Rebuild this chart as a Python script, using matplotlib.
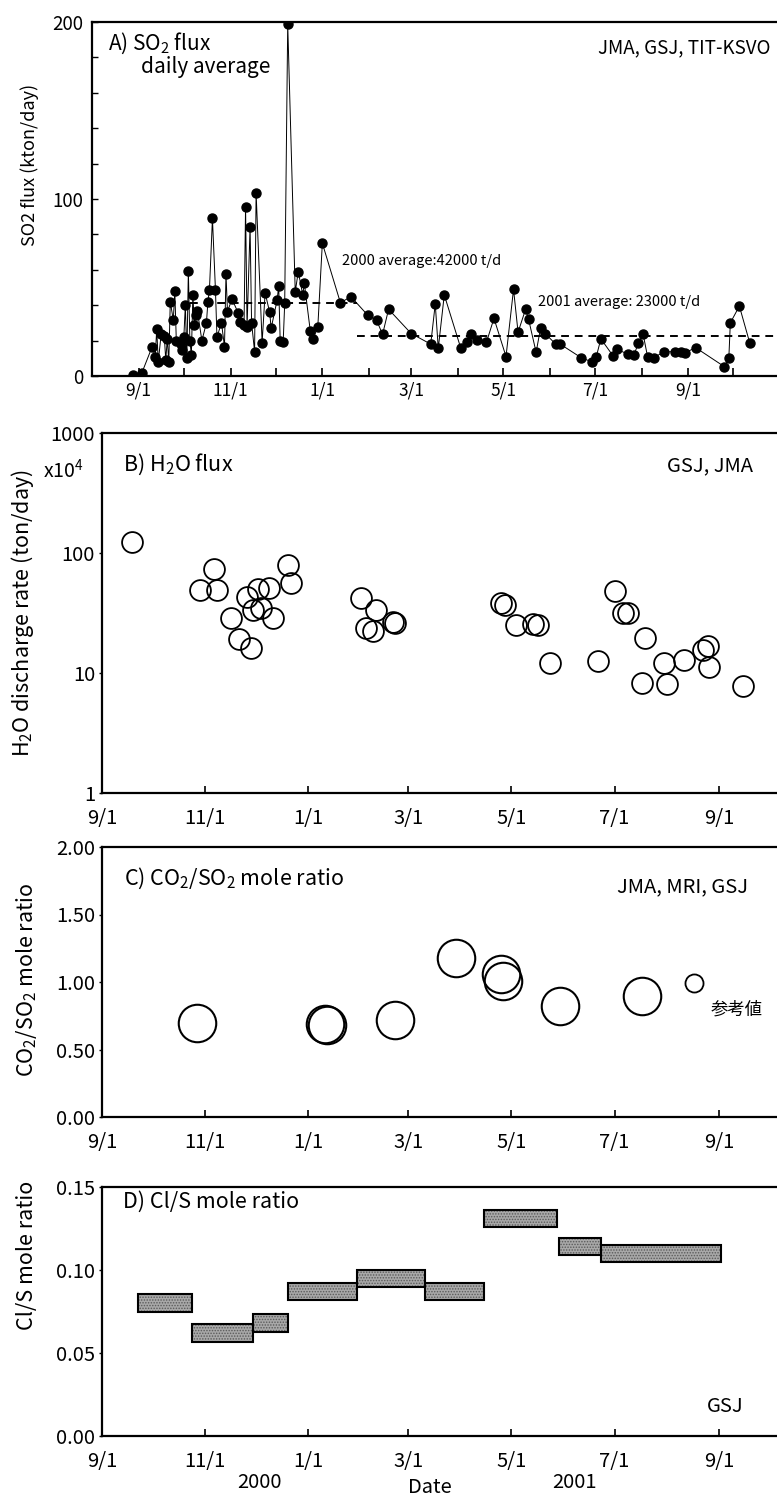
import numpy as np
import pandas as pd
import matplotlib
matplotlib.use('Agg')
import matplotlib.pyplot as plt
import matplotlib.dates as mdates

plt.rcParams['font.family'] = ['Noto Sans CJK JP', 'DejaVu Sans']
plt.rcParams['mathtext.fontset'] = 'custom'
plt.rcParams['mathtext.rm'] = 'Noto Sans CJK JP'
plt.rcParams['mathtext.it'] = 'Noto Sans CJK JP'
plt.rcParams['hatch.linewidth'] = 0.7

# ---- A) SO2 flux, daily average (kton/day)
so2_dates = [
    '2000-08-28', '2000-09-03', '2000-09-10', '2000-09-12', '2000-09-13', '2000-09-14',
    '2000-09-16', '2000-09-18', '2000-09-19', '2000-09-20', '2000-09-21', '2000-09-22',
    '2000-09-24', '2000-09-25', '2000-09-26', '2000-09-29', '2000-09-30', '2000-10-01',
    '2000-10-02', '2000-10-03', '2000-10-04', '2000-10-05', '2000-10-06', '2000-10-07',
    '2000-10-08', '2000-10-09', '2000-10-10', '2000-10-13', '2000-10-16', '2000-10-17',
    '2000-10-18', '2000-10-20', '2000-10-22', '2000-10-23', '2000-10-26', '2000-10-28',
    '2000-10-29', '2000-10-30', '2000-11-02', '2000-11-06', '2000-11-07', '2000-11-10',
    '2000-11-11', '2000-11-12', '2000-11-14', '2000-11-15', '2000-11-17', '2000-11-18',
    '2000-11-22', '2000-11-24', '2000-11-27', '2000-11-28', '2000-12-02', '2000-12-03',
    '2000-12-04', '2000-12-06', '2000-12-07', '2000-12-09', '2000-12-14', '2000-12-16',
    '2000-12-19', '2000-12-20', '2000-12-24', '2000-12-26', '2000-12-29', '2001-01-01',
    '2001-01-13', '2001-01-20', '2001-01-31', '2001-02-06', '2001-02-10', '2001-02-14',
    '2001-03-01', '2001-03-14', '2001-03-17', '2001-03-19', '2001-03-23', '2001-04-03',
    '2001-04-07', '2001-04-10', '2001-04-14', '2001-04-20', '2001-04-25', '2001-05-03',
    '2001-05-08', '2001-05-11', '2001-05-16', '2001-05-18', '2001-05-23', '2001-05-26',
    '2001-05-29', '2001-06-05', '2001-06-08', '2001-06-22', '2001-06-29', '2001-07-02',
    '2001-07-05', '2001-07-13', '2001-07-16', '2001-07-23', '2001-07-27', '2001-07-30',
    '2001-08-02', '2001-08-05', '2001-08-09', '2001-08-16', '2001-08-23', '2001-08-27',
    '2001-08-30', '2001-09-06', '2001-09-25', '2001-09-28', '2001-09-29', '2001-10-05',
    '2001-10-12',
]
so2_flux = [
    0.5, 1.5, 16.6, 11, 26.5, 8,
    24, 22.6, 9, 21, 7.7, 42,
    31.6, 48, 20, 18, 14.7, 22,
    40, 10, 59.5, 20, 12, 45.8,
    29, 34.5, 36.7, 20, 30, 42,
    48.6, 89, 48.6, 22, 30, 16.6,
    57.6, 36.4, 43.5, 35.8, 30.3, 28.8,
    95.7, 27.9, 84.4, 30, 13.8, 103.6,
    18.9, 47, 36, 27, 43, 51,
    20, 19.4, 41, 198.7, 47.5, 59,
    45.8, 52.7, 25.4, 21, 27.9, 75,
    41.4, 44.8, 34.5, 31.6, 23.5, 37.7,
    24, 18, 40.7, 15.6, 45.8, 15.6,
    19.4, 23.5, 20.3, 19, 32.6, 11,
    49, 24.7, 37.7, 32, 13.4, 27.3,
    24, 18, 18, 10.3, 8, 11,
    21, 11.5, 15, 12.3, 11.9, 18.8,
    24, 11, 10.3, 13.7, 13.7, 13.4,
    13.2, 16, 5.3, 10, 30, 39.5,
    18.4,
]
avg_periods = [('2000-10-05', '2001-01-24'), ('2001-01-24', '2001-11-05')]
avg_values = [41, 22.5]
avg_labels = ['2000 average:42000 t/d', '2001 average: 23000 t/d']

# ---- B) H2O flux (x10^4 ton/day)
h2o_dates = [
    '2000-09-19', '2000-10-29', '2000-11-06', '2000-11-08', '2000-11-16', '2000-11-21',
    '2000-11-26', '2000-11-28', '2000-11-29', '2000-12-02', '2000-12-04', '2000-12-09',
    '2000-12-11', '2000-12-20', '2000-12-22', '2001-02-01', '2001-02-04', '2001-02-08',
    '2001-02-10', '2001-02-20', '2001-02-21', '2001-04-25', '2001-04-27', '2001-05-04',
    '2001-05-14', '2001-05-17', '2001-05-24', '2001-06-21', '2001-07-01', '2001-07-06',
    '2001-07-09', '2001-07-17', '2001-07-19', '2001-07-30', '2001-08-01', '2001-08-11',
    '2001-08-22', '2001-08-25', '2001-08-26', '2001-09-15',
]
h2o_flux = [
    124, 49.6, 73.8, 48.7, 28.9, 19.2,
    42.8, 16.3, 33.2, 49.9, 35, 50.9,
    28.7, 79.6, 56, 42, 23.5, 22.6,
    33.2, 26.5, 26, 38.5, 37.2, 24.9,
    25.4, 25, 12, 12.6, 48, 31.8,
    31.5, 8.3, 19.7, 12, 8.05, 12.8,
    15.4, 16.7, 11.2, 7.8,
]

# ---- C) CO2/SO2 mole ratio
co2_dates = ['2000-10-27', '2001-01-11', '2001-01-12', '2001-02-21', '2001-03-29',
             '2001-04-25', '2001-04-26', '2001-05-30', '2001-07-17']
co2_ratio = [0.70, 0.69, 0.68, 0.72, 1.18, 1.06, 1.01, 0.82, 0.90]
co2_ref_dates = ['2001-08-17']
co2_ref_ratio = [0.99]

# ---- D) Cl/S mole ratio (sampling periods)
cl_start = ['2000-09-22', '2000-10-24', '2000-11-29', '2000-12-20', '2001-01-30',
            '2001-03-11', '2001-04-15', '2001-05-29', '2001-06-23']
cl_end = ['2000-10-24', '2000-11-29', '2000-12-20', '2001-01-30', '2001-03-11',
          '2001-04-15', '2001-05-28', '2001-06-23', '2001-09-02']
cl_ratio = [0.080, 0.062, 0.068, 0.087, 0.095, 0.087, 0.131, 0.114, 0.110]

# ---- axis ticks
tick_dates_a = ['2000-09-01', '2000-11-01', '2001-01-01', '2001-03-01',
                '2001-05-01', '2001-07-01', '2001-09-01']
tick_labels = ['9/1', '11/1', '1/1', '3/1', '5/1', '7/1', '9/1']

W, H = 777, 1499
fig = plt.figure(figsize=(W / 100, H / 100), dpi=100)


def box(left, top, bottom, right=W):
    return [left / W, 1 - bottom / H, (right - left) / W, (bottom - top) / H]


def fx(px):
    return px / W


def fy(py):
    return 1 - py / H


def style_axes(ax):
    for s in ['top', 'left', 'bottom']:
        ax.spines[s].set_linewidth(1.6)
    ax.spines['right'].set_visible(False)
    ax.set_xticks(pd.to_datetime(tick_dates_a))
    ax.set_xticklabels(tick_labels)
    ax.tick_params(axis='x', direction='in', length=5, width=1.2, labelsize=14.5, pad=11)
    ax.tick_params(axis='y', direction='out', length=2, width=1, labelsize=14.5, pad=3)


# ---------------- A
axA = fig.add_axes(box(92, 22, 376))
axA.plot(pd.to_datetime(so2_dates), so2_flux, '-', color='black', lw=0.7,
         marker='o', ms=6.5, mfc='black', mec='black')
for (d0, d1), v in zip(avg_periods, avg_values):
    axA.plot(pd.to_datetime([d0, d1]), [v, v], '--', color='black', lw=1.4, dashes=(4, 3))
axA.set_xlim(pd.Timestamp('2000-08-01'), pd.Timestamp('2001-10-30'))
axA.set_ylim(0, 200)
for s in ['top', 'left', 'bottom']:
    axA.spines[s].set_linewidth(1.6)
axA.spines['right'].set_visible(False)
axA.set_xticks(pd.to_datetime(tick_dates_a))
axA.set_xticklabels(tick_labels)
axA.xaxis.set_minor_locator(mdates.MonthLocator())
axA.tick_params(axis='x', which='both', direction='in', length=6, width=1.2,
                labelsize=12.5, pad=4)
axA.set_yticks([0, 100, 200])
axA.set_yticks(np.arange(0, 201, 20), minor=True)
axA.tick_params(axis='y', which='both', direction='in', length=4, width=1,
                labelsize=13.5, pad=6)
fig.text(fx(30), fy(165), 'SO2 flux (kton/day)', rotation=90, ha='center', va='center',
         fontsize=13)
fig.text(fx(108), fy(50), 'A) SO$_2$ flux', fontsize=15, va='baseline')
fig.text(fx(141), fy(73), 'daily average', fontsize=15, va='baseline')
fig.text(fx(770), fy(53), 'JMA, GSJ, TIT-KSVO', fontsize=13.5, ha='right', va='baseline')
fig.text(fx(342), fy(265), avg_labels[0], fontsize=10.5, va='baseline')
fig.text(fx(538), fy(306), avg_labels[1], fontsize=10.5, va='baseline')

xlim_bcd = (pd.Timestamp('2000-09-01'), pd.Timestamp('2001-10-05'))

# ---------------- B
axB = fig.add_axes(box(102, 433, 793))
axB.semilogy(pd.to_datetime(h2o_dates), h2o_flux, 'o', ms=15, mfc='none', mec='black',
             mew=1.3)
axB.set_xlim(*xlim_bcd)
axB.set_ylim(1, 1000)
style_axes(axB)
axB.set_yticks([1, 10, 100, 1000])
axB.set_yticklabels(['1', '10', '100', '1000'])
axB.yaxis.set_minor_locator(matplotlib.ticker.NullLocator())
fig.text(fx(23), fy(613), 'H$_2$O discharge rate (ton/day)', rotation=90, ha='center',
         va='center', fontsize=15.5)
fig.text(fx(43), fy(478), 'x10$^4$', fontsize=14, va='baseline')
fig.text(fx(123), fy(471), 'B) H$_2$O flux', fontsize=15.5, va='baseline')
fig.text(fx(753), fy(471), 'GSJ, JMA', fontsize=14.5, ha='right', va='baseline')

# ---------------- C
axC = fig.add_axes(box(102, 847, 1117))
axC.plot(pd.to_datetime(co2_dates), co2_ratio, 'o', ms=27, mfc='none', mec='black',
         mew=1.5)
axC.plot(pd.to_datetime(co2_ref_dates), co2_ref_ratio, 'o', ms=13, mfc='none',
         mec='black', mew=1.3)
axC.set_xlim(*xlim_bcd)
axC.set_ylim(0, 2)
style_axes(axC)
axC.set_yticks([0, 0.5, 1.0, 1.5, 2.0])
axC.set_yticklabels(['0.00', '0.50', '1.00', '1.50', '2.00'])
fig.text(fx(27), fy(980), 'CO$_2$/SO$_2$ mole ratio', rotation=90, ha='center',
         va='center', fontsize=15.5)
fig.text(fx(124), fy(885), 'C) CO$_2$/SO$_2$ mole ratio', fontsize=15.5, va='baseline')
fig.text(fx(748), fy(892), 'JMA, MRI, GSJ', fontsize=14.5, ha='right', va='baseline')
fig.text(fx(711), fy(1010), '参考値', fontsize=12.5, va='center')

# ---------------- D
axD = fig.add_axes(box(102, 1187, 1436))
x0 = mdates.date2num(pd.to_datetime(cl_start))
x1 = mdates.date2num(pd.to_datetime(cl_end))
bar_h = 0.0105
cl = np.array(cl_ratio)
axD.bar(x0, bar_h, width=x1 - x0, bottom=cl - bar_h / 2, align='edge',
        color='#a8a8a8', edgecolor='#5a5a5a', hatch='......', lw=0)
axD.bar(x0, bar_h, width=x1 - x0, bottom=cl - bar_h / 2, align='edge',
        color='none', edgecolor='black', lw=1.5)
axD.xaxis_date()
axD.set_xlim(*xlim_bcd)
axD.set_ylim(0, 0.15)
style_axes(axD)
axD.set_yticks([0, 0.05, 0.10, 0.15])
axD.set_yticklabels(['0.00', '0.05', '0.10', '0.15'])
fig.text(fx(27), fy(1255), 'Cl/S mole ratio', rotation=90, ha='center', va='center',
         fontsize=15.5)
fig.text(fx(123), fy(1208), 'D) Cl/S mole ratio', fontsize=15.5, va='baseline')
fig.text(fx(743), fy(1412), 'GSJ', fontsize=14.5, ha='right', va='baseline')
fig.text(fx(259), fy(1488), '2000', fontsize=14.5, ha='center', va='baseline')
fig.text(fx(430), fy(1493), 'Date', fontsize=14.5, ha='center', va='baseline')
fig.text(fx(574), fy(1488), '2001', fontsize=14.5, ha='center', va='baseline')

fig.savefig('out.png', dpi=100)
